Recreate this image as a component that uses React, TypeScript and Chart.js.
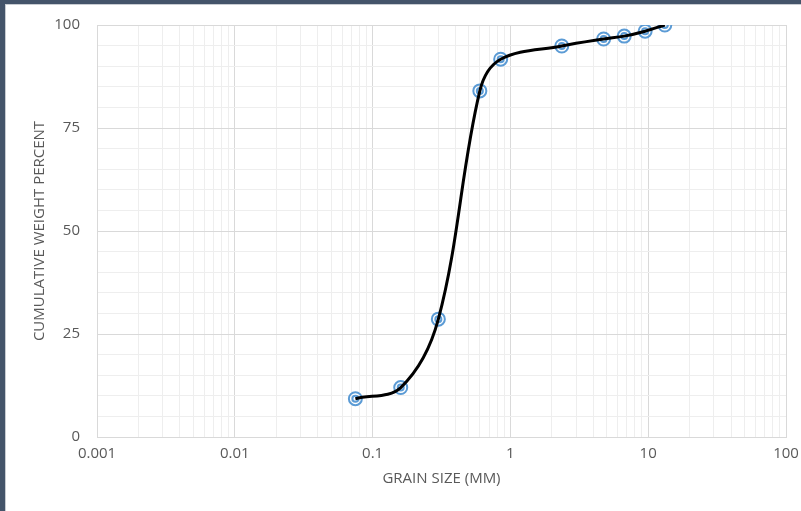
import React, { useEffect, useRef } from 'react';
import { Chart, registerables } from 'chart.js';
Chart.register(...registerables);

const grainSizes = [0.075, 0.16, 0.3, 0.6, 0.85, 2.36, 4.75, 6.7, 9.5, 13.2];
const cumulativePercent = [9.3, 12.0, 28.6, 84.0, 91.7, 94.9, 96.6, 97.3, 98.5, 100];
const xMajorTicks = [0.001, 0.01, 0.1, 1, 10, 100];
const xTickLabels = ['0.001', '0.01', '0.1', '1', '10', '100'];
const yLabelTicks = [0, 25, 50, 75, 100];
const yTickLabels = ['0', '25', '50', '75', '100'];

const FONT = "'Open Sans', 'Liberation Sans', sans-serif";
const TEXT = '#595959';

function majorIndex(v: number): number {
  return xMajorTicks.findIndex((m) => Math.abs(Math.log10(v) - Math.log10(m)) < 1e-9);
}

export default function App() {
  const ref = useRef<HTMLCanvasElement>(null);
  useEffect(() => {
    if (!ref.current) return;
    const pts = grainSizes.map((x, i) => ({ x, y: cumulativePercent[i] }));
    const gridValues: number[] = [];
    for (let i = 0; i < xMajorTicks.length - 1; i++) {
      for (let m = 1; m < 10; m++) gridValues.push(xMajorTicks[i] * m);
    }
    gridValues.push(xMajorTicks[xMajorTicks.length - 1]);

    const chart = new Chart(ref.current, {
      type: 'scatter',
      data: {
        datasets: [
          {
            data: pts,
            showLine: true,
            borderColor: '#000000',
            borderWidth: 3,
            tension: 0.35,
            pointRadius: 0,
            fill: false,
          },
          {
            data: pts,
            showLine: false,
            pointRadius: 3,
            pointBorderWidth: 2,
            pointBorderColor: '#5B9BD5',
            pointBackgroundColor: 'rgba(0,0,0,0)',
          },
          {
            data: pts,
            showLine: false,
            pointRadius: 6.5,
            pointBorderWidth: 2,
            pointBorderColor: '#5B9BD5',
            pointBackgroundColor: 'rgba(0,0,0,0)',
          },
        ],
      },
      options: {
        animation: false,
        responsive: false,
        events: [],
        layout: { padding: { left: 0, right: 15, top: 25, bottom: 0 } },
        plugins: { legend: { display: false }, tooltip: { enabled: false } },
        scales: {
          x: {
            type: 'logarithmic',
            min: xMajorTicks[0],
            max: xMajorTicks[xMajorTicks.length - 1],
            afterBuildTicks: (scale: any) => {
              scale.ticks = gridValues.map((value) => ({ value }));
            },
            afterFit: (scale: any) => {
              scale.height = 74;
              scale.paddingLeft = 0;
              scale.paddingRight = 0;
            },
            ticks: {
              autoSkip: false,
              maxRotation: 0,
              padding: 8,
              color: TEXT,
              font: { family: FONT, size: 15 },
              callback: (v: any) => {
                const i = majorIndex(Number(v));
                return i >= 0 ? xTickLabels[i] : '';
              },
            },
            grid: {
              drawTicks: false,
              color: (ctx: any) =>
                ctx.tick && majorIndex(ctx.tick.value) >= 0 ? '#D9D9D9' : '#EEEEEE',
              lineWidth: 1,
            },
            border: { color: '#D9D9D9' },
            title: {
              display: true,
              text: 'GRAIN SIZE (MM)',
              color: TEXT,
              font: { family: FONT, size: 15 },
              padding: { top: 0, bottom: 23 },
            },
          },
          y: {
            min: 0,
            max: 100,
            afterFit: (scale: any) => {
              scale.width = 97;
              scale.paddingTop = 0;
              scale.paddingBottom = 0;
            },
            ticks: {
              stepSize: 5,
              autoSkip: false,
              padding: 17,
              color: TEXT,
              font: { family: FONT, size: 15 },
              callback: (v: any) => {
                const i = yLabelTicks.indexOf(Number(v));
                return i >= 0 ? yTickLabels[i] : '';
              },
            },
            grid: {
              drawTicks: false,
              color: (ctx: any) =>
                ctx.tick && ctx.tick.value % 25 === 0 ? '#D9D9D9' : '#EEEEEE',
              lineWidth: 1,
            },
            border: { color: '#D9D9D9' },
            title: {
              display: true,
              text: 'CUMULATIVE WEIGHT PERCENT',
              color: TEXT,
              font: { family: FONT, size: 15 },
              padding: { top: 31, bottom: 0 },
            },
          },
        },
      },
    });
    return () => chart.destroy();
  }, []);

  return (
    <div style={{ position: 'fixed', left: 0, top: 0, width: 801, height: 511, background: '#fff' }}>
      <canvas ref={ref} width={801} height={511} style={{ position: 'absolute', left: 0, top: 0 }} />
      <div style={{ position: 'absolute', left: 0, top: 0, width: 801, height: 4, background: '#44546A' }} />
      <div style={{ position: 'absolute', left: 0, top: 0, width: 5, height: 511, background: '#44546A' }} />
      <div style={{ position: 'absolute', left: 5, top: 4, width: 796, height: 1, background: '#C8CCD2' }} />
      <div style={{ position: 'absolute', left: 5, top: 4, width: 1, height: 507, background: '#C8CCD2' }} />
    </div>
  );
}
